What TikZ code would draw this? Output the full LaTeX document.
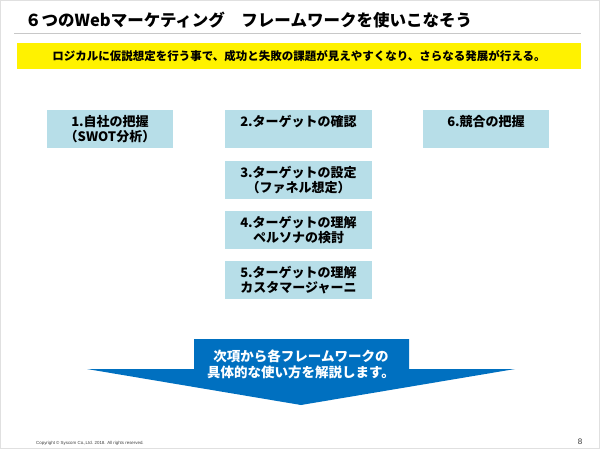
\documentclass[tikz,border=0pt]{standalone}
\usepackage{fontspec}
\setmainfont{Noto Sans CJK JP}
\newfontfamily\lsans{Liberation Sans}
\definecolor{boxblue}{HTML}{B7DEE8}
\definecolor{arrowblue}{HTML}{0070C0}
\definecolor{rulegray}{HTML}{C8C8C8}
\definecolor{framegray}{HTML}{E0E0E0}
\begin{document}
\begin{tikzpicture}[x=1pt,y=-1pt,
  stepbox/.style={fill=boxblue, minimum height=38pt, inner sep=0pt, align=center,
    font=\fontsize{13}{15.5}\selectfont\bfseries},
  widebox/.style={stepbox, minimum width=147pt},
  narrowbox/.style={stepbox, minimum width=126pt}]
\useasboundingbox (0,0) rectangle (600,450);
\fill[white] (0,0) rectangle (600,450);
\draw[framegray, line width=1pt] (0.5,0.5) rectangle (599.5,448.5);
% title
\node[anchor=west, inner sep=0pt, font=\fontsize{16.5}{18}\selectfont\bfseries] (title) at (25,20) {６つのWebマーケティング　フレームワークを使いこなそう};
\coordinate (ruleL) at (14,33);
\coordinate (ruleR) at (581,33);
\draw[rulegray, line width=1pt] (ruleL) -- (ruleR);
% yellow band
\node[fill=yellow, minimum width=564pt, minimum height=26pt, inner sep=0pt,
  font=\fontsize{11.5}{13}\selectfont\bfseries] (lead) at (299,56) {ロジカルに仮説想定を行う事で、成功と失敗の課題が見えやすくなり、さらなる発展が行える。};
% boxes
\node[narrowbox] (b1) at (110,129) {1.自社の把握\\（SWOT分析）};
\node[widebox] (b2) at (298.5,129) {2.ターゲットの確認\\\mbox{}};
\node[narrowbox] (b6) at (486,129) {6.競合の把握\\\mbox{}};
\node[widebox] (b3) at (298.5,180) {3.ターゲットの設定\\（ファネル想定）};
\node[widebox] (b4) at (298.5,230) {4.ターゲットの理解\\ペルソナの検討};
\node[widebox] (b5) at (298.5,280) {5.ターゲットの理解\\カスタマージャーニ};
% arrow
\fill[arrowblue] (194,339) -- (409,339) -- (409,369) -- (515,369) -- (301,405) -- (87,369) -- (194,369) -- cycle;
\node[text=white, align=center, inner sep=0pt,
  font=\fontsize{13.5}{16}\selectfont\bfseries] (arrowtext) at (301,364) {次項から各フレームワークの\\具体的な使い方を解説します。};
% footer
\node[anchor=west, inner sep=0pt, font=\lsans\fontsize{4.4}{5}\selectfont, text=black!75] (copy) at (36,443.5) {Copyright © Syscom Co.,Ltd. 2018. All rights reserved.};
\node[inner sep=0pt, font=\lsans\fontsize{8}{9}\selectfont, text=black!80] (page) at (580,442) {8};
\end{tikzpicture}
\end{document}
